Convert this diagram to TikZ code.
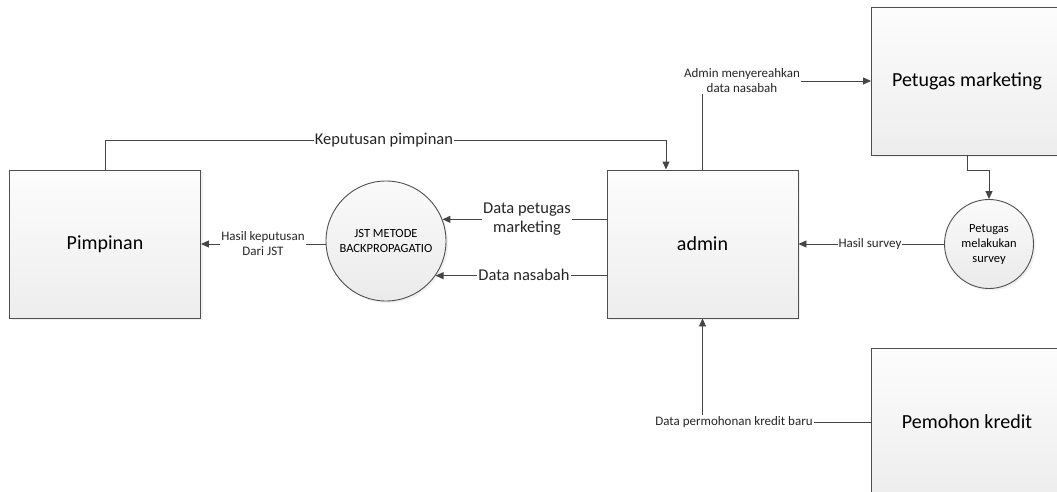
\documentclass[tikz,border=0pt]{standalone}
\usepackage{fontspec}
\setmainfont{Carlito}
\usetikzlibrary{arrows.meta,shadows}
\definecolor{ln}{HTML}{454545}
\definecolor{bd}{HTML}{505050}
\tikzset{
  ent/.style={draw=bd, line width=0.9pt, rectangle, minimum width=191pt, minimum height=148pt,
    top color=gray!2, bottom color=gray!14, font=\fontsize{20}{22}\selectfont,
    drop shadow={opacity=0.12, shadow xshift=2pt, shadow yshift=-2pt}},
  proc/.style={draw=bd, line width=0.9pt, circle, inner sep=0pt,
    top color=gray!4, bottom color=gray!16, align=center, font=\fontsize{12.5}{15}\selectfont,
    drop shadow={opacity=0.12, shadow xshift=2pt, shadow yshift=-2pt}},
  arr/.style={draw=ln, line width=0.9pt, -{Triangle[length=8pt,width=7pt]}},
  lbl/.style={fill=white, inner sep=1pt, align=center, text=black!85},
  big/.style={font=\fontsize{16.5}{19.5}\selectfont},
  small/.style={font=\fontsize{13}{15}\selectfont}
}
\begin{document}
\begin{tikzpicture}[x=1pt,y=-1pt]
\useasboundingbox (0,0) rectangle (1057,492);
\node[ent] (pim) at (105,244) {Pimpinan};
\node[ent] (adm) at (702.5,244) {admin};
\node[ent] (pm) at (967,81) {Petugas marketing};
\node[ent] (pk) at (967,422) {Pemohon kredit};
\node[proc, minimum size=120pt] (jst) at (386,241) {JST METODE\\BACKPROPAGATIO};
\node[proc, minimum size=89pt] (sur) at (989,244) {Petugas\\melakukan\\survey};
\coordinate (k) at (666,140);
% Keputusan pimpinan
\draw[arr] (pim.north) |- (k) -- (k |- adm.north);
\node[lbl, big] (lk) at (384,140) {Keputusan pimpinan};
% Admin -> Petugas marketing
\draw[arr] (adm.north) |- (pm.west);
\node[lbl, small] (la) at (742,81) {Admin menyereahkan\\data nasabah};
% Petugas marketing -> survey
\draw[arr] (pm.south) -- ++(0,15) -| (sur.north);
% survey -> admin
\draw[arr] (sur.west) -- (adm.east);
\node[lbl, small] (ls) at (870,244) {Hasil survey};
% admin -> JST
\draw[arr] (adm.west |- jst.21.5) -- (jst.21.5);
\node[lbl, big] (ldp) at (527,219) {Data petugas\\marketing};
\draw[arr] (adm.west |- jst.-35.7) -- (jst.-35.7);
\node[lbl, big] (ldn) at (524,275) {Data nasabah};
% JST -> Pimpinan
\draw[arr] (jst.west |- pim.east) -- (pim.east);
\node[lbl, small] (lh) at (263,244) {Hasil keputusan\\Dari JST};
% Pemohon -> admin
\draw[arr] (pk.west) -| (adm.south);
\node[lbl, small] (lp) at (734,422) {Data permohonan kredit baru};
\end{tikzpicture}
\end{document}
